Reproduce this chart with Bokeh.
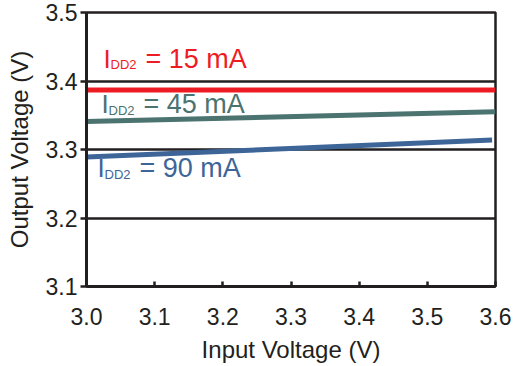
from bokeh.plotting import figure
from bokeh.models import Range1d, FixedTicker, NumeralTickFormatter, Label
from bokeh.embed import file_html
from bokeh.resources import INLINE

# ---- data ----
input_v = [3.0, 3.6]
out_15mA = [3.387, 3.387]
out_45mA = [3.341, 3.355]
input_v_90 = [3.0, 3.595]
out_90mA = [3.289, 3.314]

x_ticks = [3.0, 3.1, 3.2, 3.3, 3.4, 3.5, 3.6]
y_ticks = [3.1, 3.2, 3.3, 3.4, 3.5]

series_labels = ["15 mA", "45 mA", "90 mA"]
RED = "#ED1C24"
GREEN = "#4B736F"
BLUE = "#3D6598"
INK = "#231F20"
FONT = "Liberation Sans"

p = figure(width=513, height=366, output_backend="svg", toolbar_location=None,
           x_range=Range1d(3.0, 3.6), y_range=Range1d(3.1, 3.5),
           min_border_left=86, min_border_right=18, min_border_top=12, min_border_bottom=80)

p.background_fill_color = "white"
p.border_fill_color = "white"
p.outline_line_color = INK
p.outline_line_width = 2.5

# grid
p.xgrid.visible = False
p.ygrid.ticker = FixedTicker(ticks=y_ticks)
p.ygrid.grid_line_color = INK
p.ygrid.grid_line_width = 2.5

# axes
for ax in (p.xaxis[0], p.yaxis[0]):
    ax.axis_line_color = INK
    ax.axis_line_width = 3
    ax.major_tick_line_color = INK
    ax.major_tick_line_width = 2.5
    ax.minor_tick_line_color = None
    ax.major_label_text_font = FONT
    ax.major_label_text_font_size = "23px"
    ax.major_label_text_color = INK
    ax.axis_label_text_font = FONT
    ax.axis_label_text_font_size = "24px"
    ax.axis_label_text_font_style = "normal"
    ax.axis_label_text_color = INK
    ax.formatter = NumeralTickFormatter(format="0.0")

p.xaxis.ticker = FixedTicker(ticks=x_ticks)
p.yaxis.ticker = FixedTicker(ticks=y_ticks)
p.xaxis.major_tick_in = 5
p.xaxis.major_tick_out = 0
p.yaxis.major_tick_in = 0
p.yaxis.major_tick_out = 6
p.xaxis.major_label_standoff = 21
p.yaxis.major_label_standoff = 3
p.xaxis.axis_label = "Input Voltage (V)"
p.yaxis.axis_label = "Output Voltage (V)"
p.xaxis.axis_label_standoff = 8
p.yaxis.axis_label_standoff = 10

# lines
p.line(input_v, out_15mA, line_color=RED, line_width=5)
p.line(input_v, out_45mA, line_color=GREEN, line_width=5)
p.line(input_v_90, out_90mA, line_color=BLUE, line_width=5)

# labels: I_DD2 = ... mA  (anchor x offset px, baseline y, subscript baseline y)
def add_label(text, color, x_off, y_base, y_sub):
    common = dict(text_font=FONT, text_color=color, text_baseline="alphabetic", x=3.0)
    p.add_layout(Label(text="I", x_offset=x_off, y=y_base, text_font_size="26px", **common))
    p.add_layout(Label(text="DD2", x_offset=x_off + 7, y=y_sub, text_font_size="13px", **common))
    p.add_layout(Label(text="= " + text, x_offset=x_off + 42, y=y_base, text_font_size="27px", **common))

add_label(series_labels[0], RED, 17, 3.4318, 3.4238)
add_label(series_labels[1], GREEN, 15, 3.3658, 3.3563)
add_label(series_labels[2], BLUE, 11, 3.2725, 3.2637)

open("out.html", "w").write(file_html(p, INLINE))
